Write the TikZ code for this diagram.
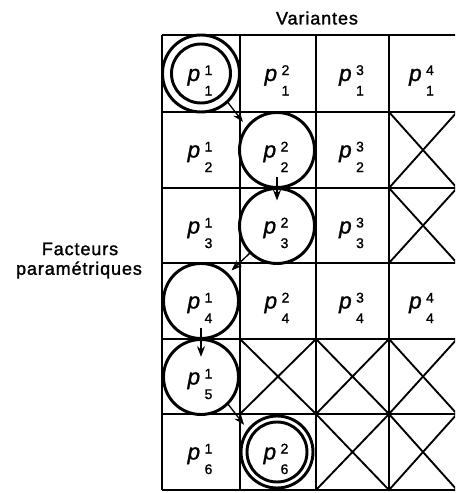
\documentclass[tikz,border=0pt]{standalone}
\usepackage{fontspec}
\setmainfont[FakeBold=1.2]{Liberation Sans}
\newfontfamily\lblfont[LetterSpace=5,FakeBold=1.5]{Liberation Sans}
\usetikzlibrary{arrows.meta}
\newcommand\pcell[2]{\textit{p}\kern3.3pt\raisebox{-10.9pt}{\fontsize{10.5}{10.5}\selectfont\vbox{\baselineskip=15.4pt\hbox{#2}\hbox{#1}}}}
\begin{document}
\begin{tikzpicture}[x=0.75pt,y=-0.75pt,
  gridline/.style={line width=1.4pt},
  crossline/.style={line width=1.4pt},
  ring/.style={circle, draw, line width=2.2pt, inner sep=0pt, outer sep=0pt},
  flow/.style={-{Stealth[length=8pt,width=6pt]}, line width=1pt},
  cell/.style={anchor=base, inner sep=0pt, font=\fontsize{17}{17}\selectfont},
  head/.style={inner sep=0pt, font=\lblfont\fontsize{13.5}{15}\selectfont}]
\useasboundingbox (0,0) rectangle (455,493);
\clip (0,0) rectangle (455,493);
% headings
\node[head] (var) at (317,18) {Variantes};
\node[head] (fac) at (80,249) {Facteurs};
\node[head] (par) at (79,270) {paramétriques};
% grid
\foreach \x in {162,240,316,389,457} \draw[gridline] (\x,35) -- (\x,490);
\foreach \y in {35,112,188,263,339,414,490} \draw[gridline] (162,\y) -- (457,\y);
% crossed-out cells
\draw[crossline] (389,112) -- (457,188) (389,188) -- (457,112);
\draw[crossline] (389,188) -- (457,263) (389,263) -- (457,188);
\foreach \xa/\xb in {240/316,316/389,389/457}{
  \draw[crossline] (\xa,339) -- (\xb,414) (\xa,414) -- (\xb,339);
}
\foreach \xa/\xb in {316/389,389/457}{
  \draw[crossline] (\xa,414) -- (\xb,490) (\xa,490) -- (\xb,414);
}
% circles
\node[ring, minimum size=57.75pt] (c11) at (201,73.5) {};
\node[ring, minimum size=44.25pt] (c11i) at (201,73.5) {};
\node[ring, minimum size=56.25pt] (c22) at (277,150) {};
\node[ring, minimum size=56.25pt] (c32) at (277,226) {};
\node[ring, minimum size=56.25pt] (c41) at (201,301) {};
\node[ring, minimum size=56.25pt] (c51) at (201,377) {};
\node[ring, minimum size=54pt] (c62) at (277,452) {};
\node[ring, minimum size=45pt] (c62i) at (277,452) {};
% labels
\node[cell] (l11) at (200,81) {\pcell{1}{1}};
\node[cell] (l12) at (277,81) {\pcell{1}{2}};
\node[cell] (l13) at (351.5,81) {\pcell{1}{3}};
\node[cell] (l14) at (421.5,81) {\pcell{1}{4}};
\node[cell] (l21) at (200,157.5) {\pcell{2}{1}};
\node[cell] (l22) at (276,157.5) {\pcell{2}{2}};
\node[cell] (l23) at (351.5,157.5) {\pcell{2}{3}};
\node[cell] (l31) at (200,233.5) {\pcell{3}{1}};
\node[cell] (l32) at (276,233.5) {\pcell{3}{2}};
\node[cell] (l33) at (351.5,233.5) {\pcell{3}{3}};
\node[cell] (l41) at (200,308.5) {\pcell{4}{1}};
\node[cell] (l42) at (277,308.5) {\pcell{4}{2}};
\node[cell] (l43) at (351.5,308.5) {\pcell{4}{3}};
\node[cell] (l44) at (421.5,308.5) {\pcell{4}{4}};
\node[cell] (l51) at (200,384.5) {\pcell{5}{1}};
\node[cell] (l61) at (200,459.5) {\pcell{6}{1}};
\node[cell] (l62) at (276,459.5) {\pcell{6}{2}};
% path arrows
\draw[flow] (c11.-47) -- ([shift={(-4pt,3pt)}]c22.140);
\draw[flow] ([yshift=8pt]c22.south) -- ([yshift=-9pt]c32.north);
\draw[flow] (c32.-135) -- ([shift={(3pt,3pt)}]c41.45);
\draw[flow] ([yshift=8pt]c41.south) -- ([yshift=-13pt]c51.north);
\draw[flow] (c51.-45) -- ([shift={(-4pt,3pt)}]c62.140);
\end{tikzpicture}
\end{document}
